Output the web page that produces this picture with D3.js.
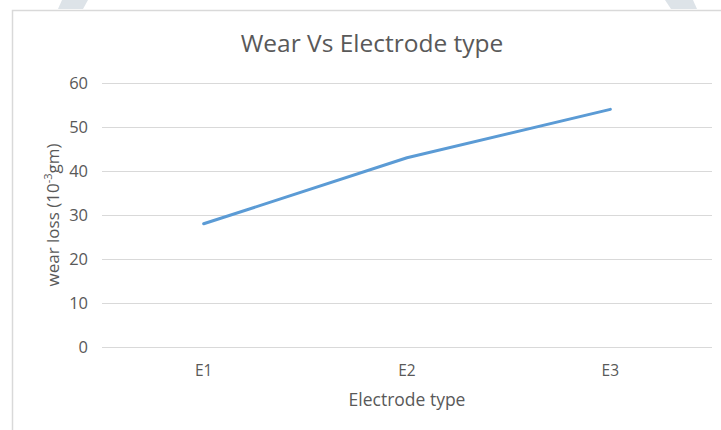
<!DOCTYPE html>
<html>
<head>
<meta charset="utf-8">
<script src="https://cdn.jsdelivr.net/npm/d3@7"></script>
<style>
  html, body { margin: 0; padding: 0; background: #fff; }
  svg { display: block; font-family: "Open Sans", "Noto Sans", sans-serif; }
</style>
</head>
<body>
<svg id="chart" width="721" height="430"></svg>
<script>
// Wear loss per electrode type
const categories = ["E1", "E2", "E3"];
const wearLoss = [28, 43, 54];
const yTicks = [0, 10, 20, 30, 40, 50, 60];

const svg = d3.select("#chart");
const W = 721, H = 430;
const margin = { left: 102, right: 9, top: 83, bottom: 83 };

// decorative background shapes at the top edge
svg.append("polygon").attr("points", "62,0 88,0 83,9 58,9").attr("fill", "#dde3e8");
svg.append("polygon").attr("points", "665,0 693,0 697,9 671,9").attr("fill", "#dde3e8");

// chart frame
svg.append("path")
  .attr("d", "M12.5,430 V10.5 H721")
  .attr("fill", "none").attr("stroke", "#d9d9d9").attr("stroke-width", 1.5);

const x = d3.scaleBand().domain(categories).range([margin.left, W - margin.right]);
const y = d3.scaleLinear().domain([0, 60]).range([H - margin.bottom, margin.top]);

// gridlines
svg.append("g").selectAll("line").data(yTicks).join("line")
  .attr("x1", margin.left).attr("x2", W - margin.right)
  .attr("y1", d => Math.round(y(d)) + 0.5).attr("y2", d => Math.round(y(d)) + 0.5)
  .attr("stroke", "#d9d9d9").attr("stroke-width", 1);

// y tick labels
svg.append("g").selectAll("text").data(yTicks).join("text")
  .attr("x", 88).attr("y", d => y(d)).attr("dy", "0.35em")
  .attr("text-anchor", "end").attr("font-size", 16.5).attr("fill", "#595959")
  .text(d => d);

// x tick labels
svg.append("g").selectAll("text").data(categories).join("text")
  .attr("x", d => x(d) + x.bandwidth() / 2).attr("y", 376)
  .attr("text-anchor", "middle").attr("font-size", 15.5).attr("fill", "#595959")
  .text(d => d);

// line
const line = d3.line()
  .x((d, i) => x(categories[i]) + x.bandwidth() / 2)
  .y(d => y(d));
svg.append("path").datum(wearLoss)
  .attr("d", line)
  .attr("fill", "none").attr("stroke", "#5b9bd5").attr("stroke-width", 3)
  .attr("stroke-linecap", "round").attr("stroke-linejoin", "round");

// title
svg.append("text").attr("x", 372).attr("y", 52)
  .attr("text-anchor", "middle").attr("font-size", 24.5).attr("fill", "#595959")
  .text("Wear Vs Electrode type");

// x axis title
svg.append("text").attr("x", 407).attr("y", 406)
  .attr("text-anchor", "middle").attr("font-size", 17.5).attr("fill", "#595959")
  .text("Electrode type");

// y axis title with superscript
const yt = svg.append("text")
  .attr("transform", "translate(59,215) rotate(-90)")
  .attr("text-anchor", "middle").attr("font-size", 17).attr("fill", "#595959");
yt.append("tspan").text("wear loss (10");
yt.append("tspan").attr("font-size", 11).attr("dy", "-0.6em").text("-3");
yt.append("tspan").attr("dy", "0.4em").text("gm)");
</script>
</body>
</html>
